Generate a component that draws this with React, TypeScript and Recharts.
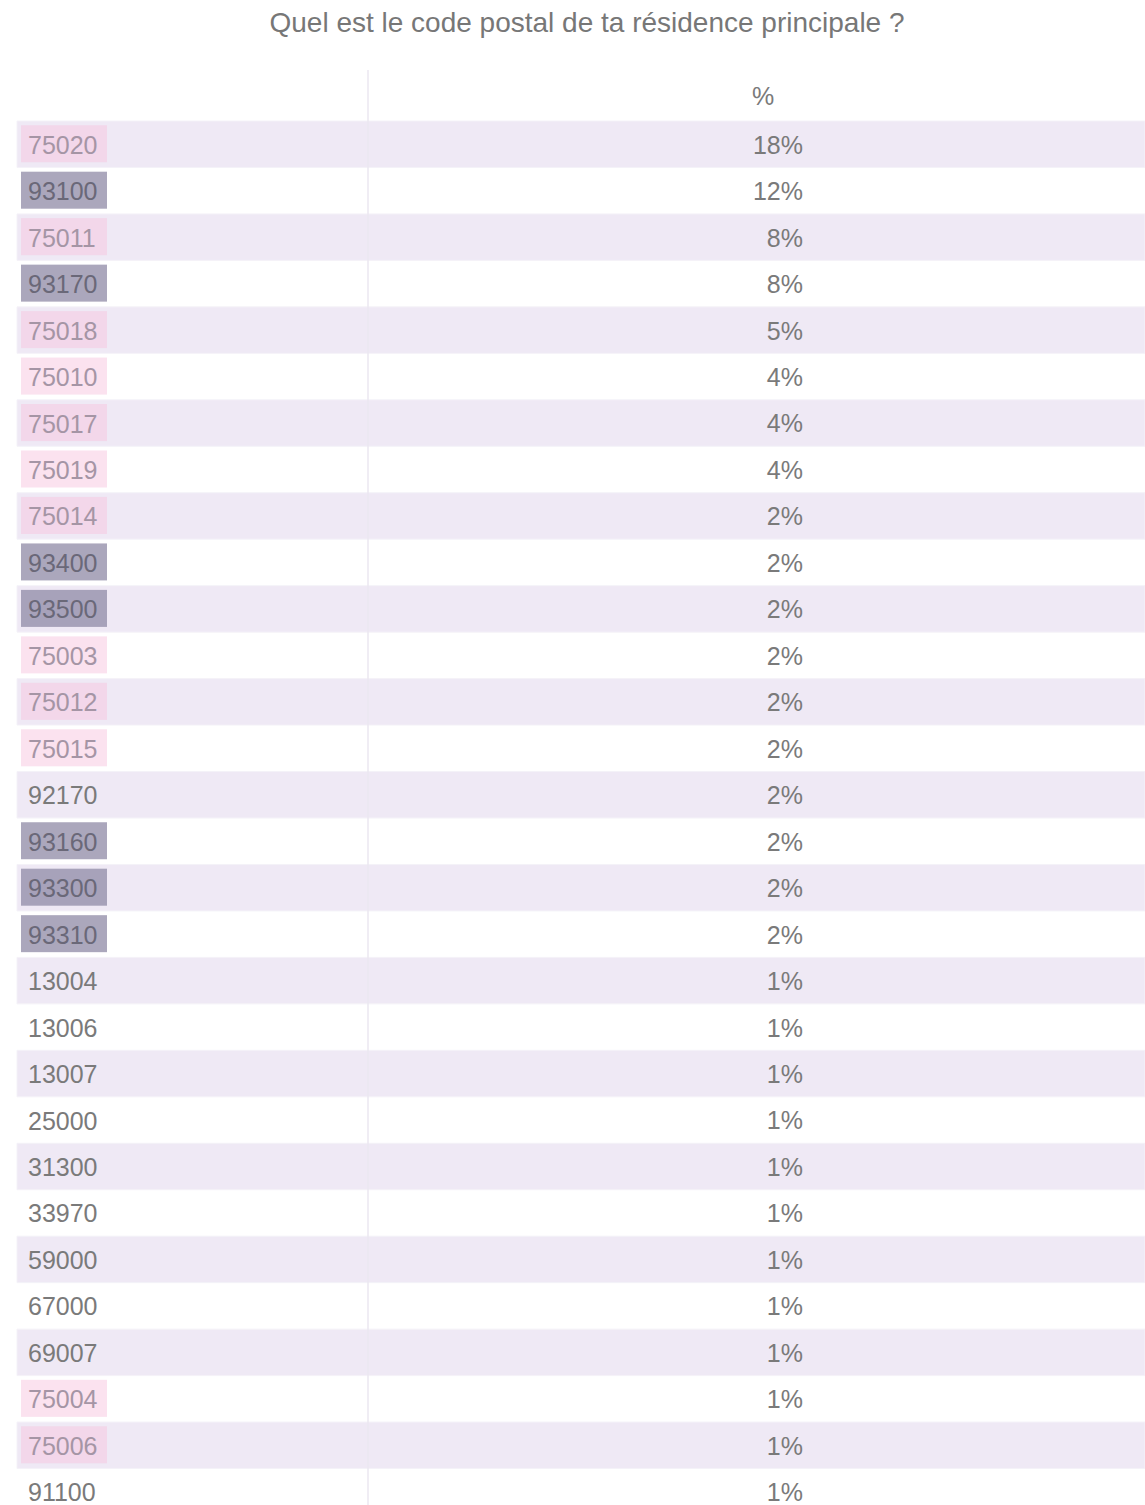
import React from 'react';
import { BarChart, Bar, XAxis, YAxis, ReferenceArea, LabelList, Label } from 'recharts';

const TITLE = 'Quel est le code postal de ta résidence principale ?';
const VALUE_HEADER = '%';

const postalCodes = [
  '75020', '93100', '75011', '93170', '75018', '75010', '75017', '75019', '75014', '93400',
  '93500', '75003', '75012', '75015', '92170', '93160', '93300', '93310', '13004', '13006',
  '13007', '25000', '31300', '33970', '59000', '67000', '69007', '75004', '75006', '91100',
];

const shares = [
  18, 12, 8, 8, 5, 4, 4, 4, 2, 2,
  2, 2, 2, 2, 2, 2, 2, 2, 1, 1,
  1, 1, 1, 1, 1, 1, 1, 1, 1, 1,
];

// highlight group of each row label: 'paris' (pink), 'ssd' (grey-purple), 'none'
const highlightGroups = [
  'paris', 'ssd', 'paris', 'ssd', 'paris', 'paris', 'paris', 'paris', 'paris', 'ssd',
  'ssd', 'paris', 'paris', 'paris', 'none', 'ssd', 'ssd', 'ssd', 'none', 'none',
  'none', 'none', 'none', 'none', 'none', 'none', 'none', 'paris', 'paris', 'none',
];

const rows = postalCodes.map((code, i) => ({
  code,
  share: shares[i],
  group: highlightGroups[i],
}));

const FONT = '"Liberation Sans", Arial, Helvetica, sans-serif';
const GROUP_STYLE: Record<string, { box: string | null; opacity: number; text: string }> = {
  paris: { box: '#f7c6e0', opacity: 0.5, text: '#a595a5' },
  ssd: { box: '#8f8aa5', opacity: 0.75, text: '#6a6878' },
  none: { box: null, opacity: 0, text: '#7a7a7a' },
};

const CHART_W = 1145;
const CHART_H = 1515;

const CodeTick = (props: any) => {
  const { y, payload } = props;
  const row = rows.find((r) => r.code === payload.value);
  const st = GROUP_STYLE[row ? row.group : 'none'];
  return (
    <g>
      {st.box && (
        <rect x={21} y={y - 19} width={86} height={37} fill={st.box} fillOpacity={st.opacity} />
      )}
      <text x={28} y={y} dy={9.5} fontSize={25} fontFamily={FONT} fill={st.text}>
        {payload.value}
      </text>
    </g>
  );
};

const ValueLabel = (props: any) => {
  const { y, height, value } = props;
  return (
    <text
      x={803}
      y={y + height / 2}
      dy={9.5}
      textAnchor="end"
      fontSize={25}
      fontFamily={FONT}
      fill="#7a7a7a"
    >
      {`${value}%`}
    </text>
  );
};

const HeaderLabel = (props: any) => {
  const vb = props.viewBox || { x: 17, y: 70, width: 1128, height: 51 };
  return (
    <g>
      <line x1={368} x2={368} y1={vb.y} y2={CHART_H} stroke="#ebe7f1" strokeWidth={1.5} />
      <text
        x={763}
        y={vb.y + vb.height / 2}
        dy={9.5}
        textAnchor="middle"
        fontSize={25}
        fontFamily={FONT}
        fill="#7a7a7a"
      >
        {VALUE_HEADER}
      </text>
    </g>
  );
};

export default function App() {
  return (
    <div
      style={{
        position: 'absolute',
        left: 0,
        top: 0,
        width: 1145,
        height: 1505,
        overflow: 'hidden',
        background: '#ffffff',
      }}
    >
      <div
        style={{
          position: 'absolute',
          left: 0,
          top: 9,
          width: 1174,
          textAlign: 'center',
          fontFamily: FONT,
          fontSize: 28,
          lineHeight: '28px',
          color: '#777777',
          whiteSpace: 'nowrap',
        }}
      >
        {TITLE}
      </div>
      <div style={{ position: 'absolute', left: 0, top: 0 }}>
        <BarChart
          width={CHART_W}
          height={CHART_H}
          data={rows}
          layout="vertical"
          margin={{ top: 70, right: 0, bottom: 0, left: 16 }}
        >
          {rows
            .filter((_, i) => i % 2 === 0)
            .map((r) => (
              <ReferenceArea
                key={r.code}
                y1={r.code}
                y2={r.code}
                fill="#efe9f5"
                fillOpacity={1}
                stroke="#f4f2f8"
                strokeWidth={1}
                ifOverflow="visible"
              />
            ))}
          <XAxis
            type="number"
            orientation="top"
            domain={[0, 100]}
            height={51}
            axisLine={false}
            tickLine={false}
            tick={false}
          >
            <Label content={HeaderLabel} />
          </XAxis>
          <YAxis
            type="category"
            dataKey="code"
            width={1}
            axisLine={false}
            tickLine={false}
            interval={0}
            tick={CodeTick}
          />
          <Bar dataKey="share" fill="none" isAnimationActive={false}>
            <LabelList dataKey="share" content={ValueLabel} />
          </Bar>
        </BarChart>
      </div>
    </div>
  );
}
